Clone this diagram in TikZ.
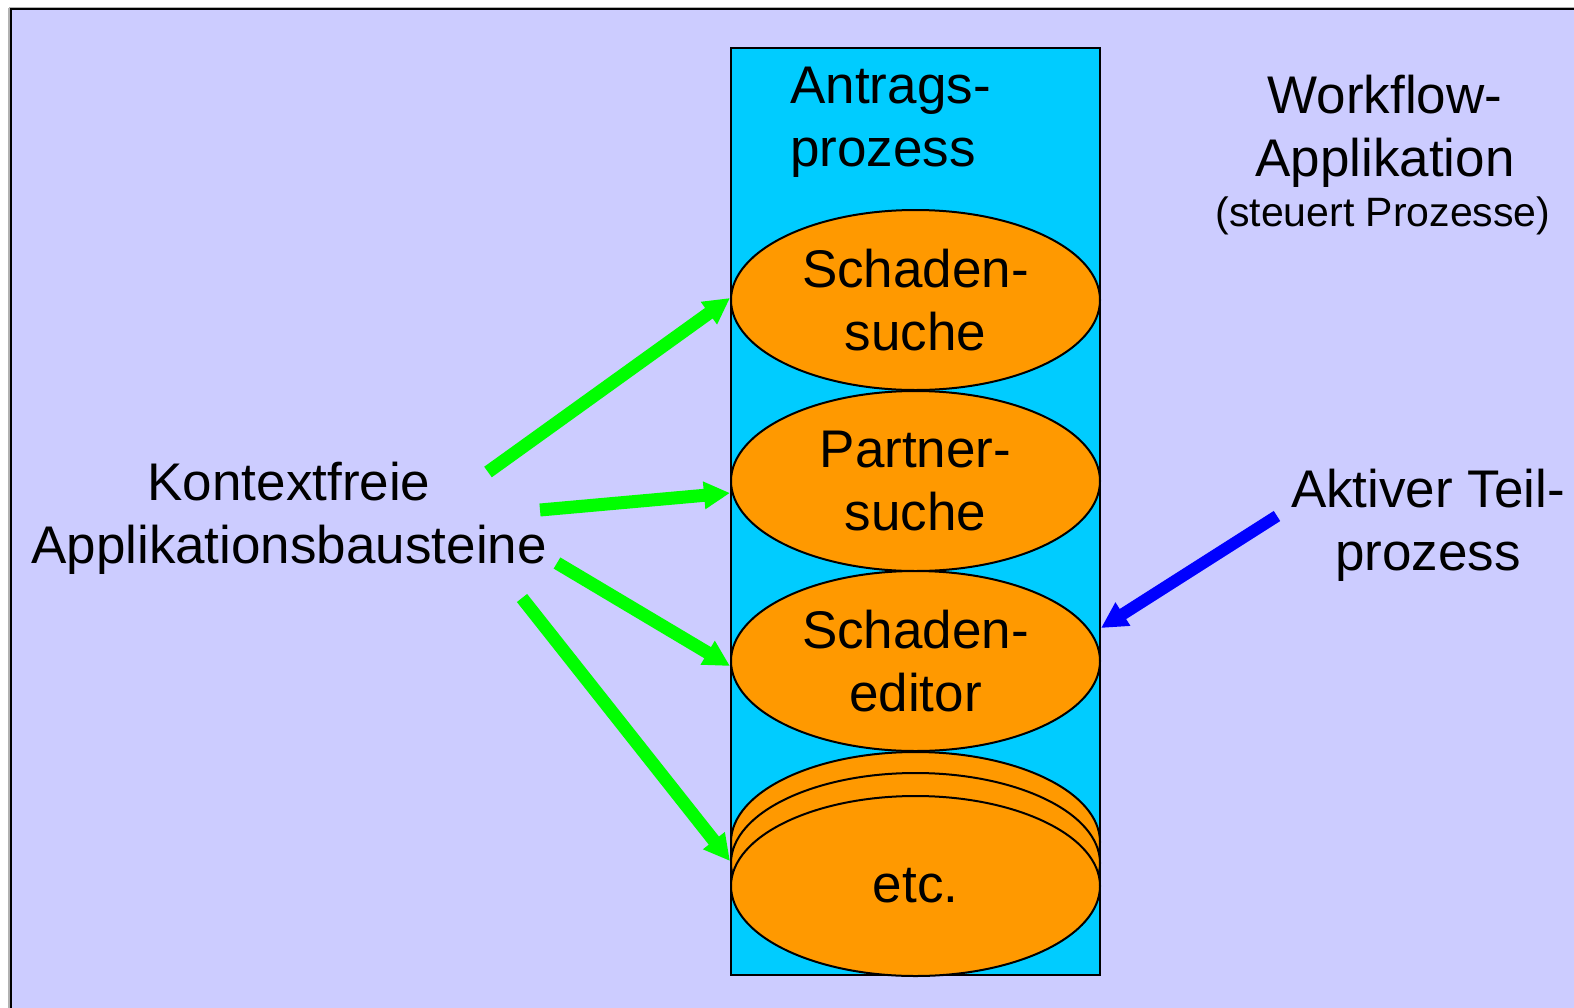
\documentclass[tikz,border=0pt]{standalone}
\usepackage{fontspec}
\setmainfont{Liberation Sans}
\usetikzlibrary{shapes.geometric,arrows.meta}

\definecolor{lavender}{HTML}{CCCCFF}
\definecolor{proccyan}{HTML}{00CCFF}
\definecolor{steporange}{HTML}{FF9900}
\definecolor{linkgreen}{HTML}{00FF00}
\definecolor{activeblue}{HTML}{0000FF}

\tikzset{
  bigtext/.style={font=\fontsize{26.5pt}{31.5pt}\selectfont, inner sep=0pt, align=center},
  smalltext/.style={font=\fontsize{20.5pt}{24pt}\selectfont, inner sep=0pt},
  stepnode/.style={ellipse, draw=black, line width=1pt, fill=steporange,
    minimum width=184.5pt, minimum height=90pt, inner sep=0pt,
    font=\fontsize{26.5pt}{31.5pt}\selectfont, align=center},
  linkarrow/.style={draw=linkgreen, line width=6.5pt,
    -{Triangle[length=13pt,width=13pt]}},
  activearrow/.style={draw=activeblue, line width=6pt,
    -{Triangle[length=13pt,width=13pt]}}
}

\begin{document}
\begin{tikzpicture}[x=0.5pt, y=-0.5pt]
  \useasboundingbox (0,0) rectangle (1574,1007);

  % application frame
  \draw[black!30, line width=1.5pt] (9,7.5) -- (9,1030) ;
  \draw[black!30, line width=1pt] (9,7.5) -- (1600,7.5);
  \fill[lavender] (11,9) rectangle (1600,1030);
  \draw[black, line width=1.2pt] (11,1030) -- (11,9) -- (1600,9);

  % process column
  \node[draw=black, line width=1pt, fill=proccyan, minimum width=184.5pt,
        minimum height=463.5pt, inner sep=0pt] (proc) at (915.5,511.5) {};

  \node[bigtext, align=left, anchor=north west] (proctitle) at (790,67)
    {Antrags-\\prozess};

  % process steps
  \node[stepnode] (s1) at (915.5,300) {Schaden-\\suche};
  \node[stepnode] (s2) at (915.5,481) {Partner-\\suche};
  \node[stepnode] (s3) at (915.5,661) {Schaden-\\editor};
  \node[stepnode] (s4c) at (915.5,842) {};
  \node[stepnode] (s4b) at (915.5,863) {};
  \node[stepnode] (s4) at (915.5,886) {\raisebox{-3pt}{etc.}};

  % labels
  \node[bigtext, anchor=north] (wf) at (1385,75) {Workflow-\\Applikation};
  \node[smalltext, anchor=base] (wfsub) at (1383,226) {(steuert Prozesse)};
  \node[bigtext, anchor=north] (kf) at (289,462)
    {Kontextfreie\\Applikationsbausteine};
  \node[bigtext, anchor=north] (akt) at (1428,469) {Aktiver Teil-\\prozess};

  % arrow tails
  \coordinate (t1) at (488,472);
  \coordinate (t2) at (540,510);
  \coordinate (t3) at (557,563);
  \coordinate (t4) at (522,598);
  \coordinate (ta) at (1277,516);

  % connectors
  \draw[linkarrow] (t1) -- ([yshift=1pt]s1.west);
  \draw[linkarrow] (t2) -- ([yshift=-6pt]s2.west);
  \draw[linkarrow] (t3) -- ([yshift=-2.5pt]s3.west);
  \draw[linkarrow] (t4) -- ([yshift=12.5pt]s4.west);
  \draw[activearrow] (ta) -- ([yshift=16.5pt]s3.east);
\end{tikzpicture}
\end{document}
